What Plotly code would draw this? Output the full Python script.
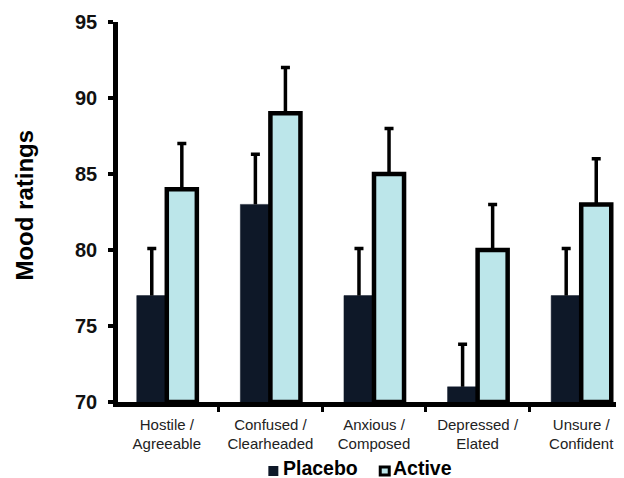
import plotly.graph_objects as go

categories = ["Hostile /<br>Agreeable", "Confused /<br>Clearheaded", "Anxious /<br>Composed",
              "Depressed /<br>Elated", "Unsure /<br>Confident"]
placebo = [77, 83, 77, 71, 77]
placebo_err = [3.1, 3.3, 3.1, 2.8, 3.1]
active = [84, 89, 85, 80, 83]
active_err = [3, 3, 3, 3, 3]
y_ticks = [70, 75, 80, 85, 90, 95]

FONT = "Arial, Liberation Sans, sans-serif"
DARK = "#0e1828"
CYAN = "#bce6ea"

# page has 8px default body margin
W, H = 616, 470
L, R, T, B = 109.5, 0, 14, 76

fig = go.Figure()
# bars with cap-less one-sided error stems
fig.add_trace(go.Bar(
    x=categories, y=[v - 70 for v in placebo], base=70, name="Placebo",
    offsetgroup="p",
    marker=dict(color=DARK, line=dict(color=DARK, width=0.5)),
    error_y=dict(type="data", array=placebo_err, arrayminus=[0]*5, symmetric=False,
                 color="black", thickness=3.5, width=0),
))
fig.add_trace(go.Bar(
    x=categories, y=[v - 70 for v in active], base=70, name="Active",
    offsetgroup="a",
    marker=dict(color=CYAN, line=dict(color="black", width=4.5)),
    error_y=dict(type="data", array=active_err, arrayminus=[0]*5, symmetric=False,
                 color="black", thickness=3.5, width=0),
))
# caps at the top of each error stem (zero-height bars in the same offset groups)
for vals, errs, grp in [(placebo, placebo_err, "p"), (active, active_err, "a")]:
    fig.add_trace(go.Bar(
        x=categories, y=[0]*5, base=[v + e for v, e in zip(vals, errs)],
        offsetgroup=grp, showlegend=False, hoverinfo="skip",
        marker=dict(color="rgba(0,0,0,0)", line=dict(width=0)),
        error_y=dict(type="data", array=[0]*5, arrayminus=[0]*5, symmetric=False,
                     color="black", thickness=3.5, width=4.5),
    ))

fig.update_layout(
    width=W, height=H,
    margin=dict(l=L, r=R, t=T, b=B, autoexpand=False),
    paper_bgcolor="white", plot_bgcolor="white",
    barmode="group", bargap=0.42, bargroupgap=0,
    showlegend=False,
    font=dict(family=FONT, color="black"),
)
fig.update_xaxes(
    type="category", range=[-0.471, 4.413],
    showline=True, linecolor="black", linewidth=4.5,
    ticks="outside", tickson="boundaries", ticklen=5, tickwidth=3, tickcolor="black",
    tickfont=dict(family=FONT, size=15, color="#222222"),
    ticklabelstandoff=5,
    showgrid=False, zeroline=False,
)
fig.update_yaxes(
    range=[70, 95], tickvals=y_ticks,
    showline=True, linecolor="black", linewidth=4.5,
    ticks="outside", ticklen=5, tickwidth=4, tickcolor="black",
    tickfont=dict(family=FONT, size=20, color="#111111", weight="bold"),
    ticklabelstandoff=7,
    showgrid=False, zeroline=False,
)

# helpers: convert reference-page pixels to paper coordinates
def px_x(p):
    return (p - 8 - L) / (W - L - R)
def px_y(p):
    return (H - B - (p - 8)) / (H - B - T)

fig.add_annotation(text="<b>Mood ratings</b>", xref="paper", yref="paper",
                   x=px_x(23), y=px_y(205), xanchor="center", yanchor="middle",
                   textangle=-90, showarrow=False,
                   font=dict(family=FONT, size=24, color="black"))

# custom legend
fig.add_shape(type="rect", xref="paper", yref="paper",
              x0=px_x(268), x1=px_x(278), y0=px_y(476), y1=px_y(466),
              fillcolor=DARK, line=dict(width=0))
fig.add_shape(type="rect", xref="paper", yref="paper",
              x0=px_x(380), x1=px_x(389), y0=px_y(475), y1=px_y(467),
              fillcolor=CYAN, line=dict(width=3, color="black"))
fig.add_annotation(text="<b>Placebo</b>", xref="paper", yref="paper",
                   x=px_x(282), y=px_y(468), xanchor="left", yanchor="middle",
                   showarrow=False, borderpad=0,
                   font=dict(family=FONT, size=19.5, color="black"))
fig.add_annotation(text="<b>Active</b>", xref="paper", yref="paper",
                   x=px_x(392), y=px_y(468), xanchor="left", yanchor="middle",
                   showarrow=False, borderpad=0,
                   font=dict(family=FONT, size=19.5, color="black"))

fig.write_html("out.html")
